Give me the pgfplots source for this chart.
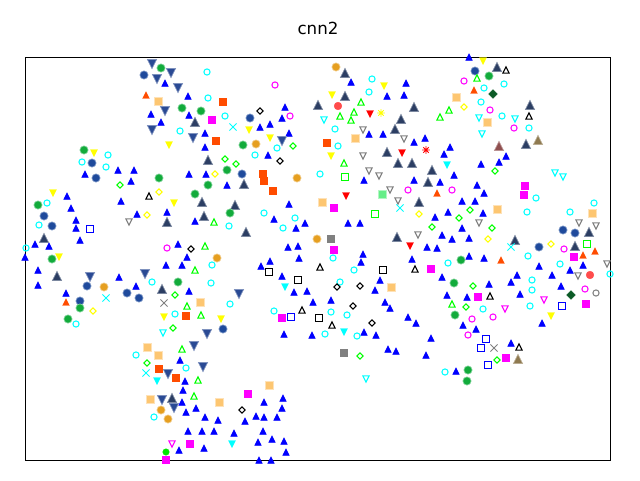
\documentclass[border=0pt]{standalone}
\usepackage{fontspec}
\setmainfont{DejaVu Sans}
\usepackage{pgfplots}
\pgfplotsset{compat=1.18}
\definecolor{cyan}{RGB}{0,255,255}
\definecolor{magenta}{RGB}{255,0,255}
\definecolor{yellow}{RGB}{255,255,0}
\pgfdeclareplotmark{utri}{\pgfpathmoveto{\pgfqpoint{0pt}{\pgfplotmarksize}}\pgfpathlineto{\pgfqpoint{-\pgfplotmarksize}{-\pgfplotmarksize}}\pgfpathlineto{\pgfqpoint{\pgfplotmarksize}{-\pgfplotmarksize}}\pgfpathclose\pgfusepathqfillstroke}
\pgfdeclareplotmark{dtri}{\pgfpathmoveto{\pgfqpoint{0pt}{-\pgfplotmarksize}}\pgfpathlineto{\pgfqpoint{-\pgfplotmarksize}{\pgfplotmarksize}}\pgfpathlineto{\pgfqpoint{\pgfplotmarksize}{\pgfplotmarksize}}\pgfpathclose\pgfusepathqfillstroke}
\pgfdeclareplotmark{sq}{\pgfpathrectanglecorners{\pgfqpoint{-\pgfplotmarksize}{-\pgfplotmarksize}}{\pgfqpoint{\pgfplotmarksize}{\pgfplotmarksize}}\pgfusepathqfillstroke}
\pgfdeclareplotmark{dia}{\pgfpathmoveto{\pgfqpoint{0pt}{\pgfplotmarksize}}\pgfpathlineto{\pgfqpoint{-\pgfplotmarksize}{0pt}}\pgfpathlineto{\pgfqpoint{0pt}{-\pgfplotmarksize}}\pgfpathlineto{\pgfqpoint{\pgfplotmarksize}{0pt}}\pgfpathclose\pgfusepathqfillstroke}
\pgfdeclareplotmark{outri}{\pgfpathmoveto{\pgfqpoint{0pt}{\pgfplotmarksize}}\pgfpathlineto{\pgfqpoint{-\pgfplotmarksize}{-\pgfplotmarksize}}\pgfpathlineto{\pgfqpoint{\pgfplotmarksize}{-\pgfplotmarksize}}\pgfpathclose\pgfusepathqstroke}
\pgfdeclareplotmark{odtri}{\pgfpathmoveto{\pgfqpoint{0pt}{-\pgfplotmarksize}}\pgfpathlineto{\pgfqpoint{-\pgfplotmarksize}{\pgfplotmarksize}}\pgfpathlineto{\pgfqpoint{\pgfplotmarksize}{\pgfplotmarksize}}\pgfpathclose\pgfusepathqstroke}
\pgfdeclareplotmark{osq}{\pgfpathrectanglecorners{\pgfqpoint{-\pgfplotmarksize}{-\pgfplotmarksize}}{\pgfqpoint{\pgfplotmarksize}{\pgfplotmarksize}}\pgfusepathqstroke}
\pgfdeclareplotmark{odia}{\pgfpathmoveto{\pgfqpoint{0pt}{\pgfplotmarksize}}\pgfpathlineto{\pgfqpoint{-\pgfplotmarksize}{0pt}}\pgfpathlineto{\pgfqpoint{0pt}{-\pgfplotmarksize}}\pgfpathlineto{\pgfqpoint{\pgfplotmarksize}{0pt}}\pgfpathclose\pgfusepathqstroke}
\pgfdeclareplotmark{ocirc}{\pgfpathcircle{\pgfpointorigin}{\pgfplotmarksize}\pgfusepathqstroke}
\pgfdeclareplotmark{ast8}{\pgfmathsetlengthmacro{\mm}{0.7071*\pgfplotmarksize}\pgfpathmoveto{\pgfqpoint{0pt}{\pgfplotmarksize}}\pgfpathlineto{\pgfqpoint{0pt}{-\pgfplotmarksize}}\pgfpathmoveto{\pgfqpoint{\pgfplotmarksize}{0pt}}\pgfpathlineto{\pgfqpoint{-\pgfplotmarksize}{0pt}}\pgfpathmoveto{\pgfqpoint{\mm}{\mm}}\pgfpathlineto{\pgfqpoint{-\mm}{-\mm}}\pgfpathmoveto{\pgfqpoint{\mm}{-\mm}}\pgfpathlineto{\pgfqpoint{-\mm}{\mm}}\pgfusepathqstroke}
\definecolor{navyt}{HTML}{2C3E63}
\definecolor{navyte}{HTML}{7F8BA3}
\definecolor{navyd}{HTML}{2A4A94}
\definecolor{navyde}{HTML}{7F92BE}
\definecolor{navyc}{HTML}{1F4A9C}
\definecolor{navyce}{HTML}{7F9AC8}
\definecolor{grn}{HTML}{12AB3B}
\definecolor{grne}{HTML}{80D49A}
\definecolor{org}{HTML}{E69F20}
\definecolor{orge}{HTML}{F2CE8E}
\definecolor{rorg}{HTML}{FF4C00}
\definecolor{lorg}{HTML}{FDC671}
\definecolor{lorge}{HTML}{FEE2B8}
\definecolor{lgrn}{HTML}{66EE88}
\definecolor{dgrn}{HTML}{0B5A26}
\definecolor{brred}{HTML}{8F4F4F}
\definecolor{tan2}{HTML}{8F7A50}
\definecolor{gry}{HTML}{808080}
\pgfplotsset{
  fm/.style n args={4}{only marks, mark=#1, mark size=#2, color=#4, mark options={solid, fill=#3, draw=#4, line width=0.7pt}},
  om/.style n args={3}{only marks, mark=#1, mark size=#2, color=#3, mark options={solid, draw=#3, line width=1.05pt}},
}
\begin{document}
\begin{tikzpicture}[x=1pt,y=1pt]
\useasboundingbox (-25.5pt,-19.5pt) rectangle (614.5pt,460.5pt);
\begin{axis}[
  scale only axis, width=585pt, height=403pt,
  xmin=25.5, xmax=610.5, ymin=57.5, ymax=460.5, y dir=reverse,
  xtick=\empty, ytick=\empty, clip=false,
  axis line style={black, line width=0.8pt},
  title style={at={(0.5,1)}, anchor=base, yshift=17.5pt, font=\fontsize{16.67}{20}\selectfont},
  title={cnn2},
]
% small blue up triangles
\addplot[fm={utri}{3.3pt}{blue}{blue}, mark options={line width=0.4pt}] coordinates {
(165,83)(151,114)(161,122)(85,174)(118,170)(134,170)(131,181)
(188,96)(189,115)(205,133)(205,147)(189,174)(206,174)(227,185)(285,107)(282,118)(270,124)(260,127)(289,133)(268,155)
(351,82)(406,83)(387,96)(404,95)(369,134)(383,134)(414,142)(425,138)(450,147)(444,154)(364,180)(414,180)(440,182)(454,175)
(469,57)(481,164)(499,162)(506,156)(477,185)
(67,196)(121,201)(71,208)(137,214)(76,220)(167,212)(76,228)(80,240)(35,244)(49,246)(25,257)(38,270)(166,265)(119,277)(38,285)(136,286)(66,293)
(195,221)(178,244)(187,257)(182,265)(189,291)(289,204)(274,219)(296,228)(288,247)(298,246)(299,258)(270,261)(261,266)(282,276)(294,292)(284,334)
(305,223)(348,223)(360,223)(363,254)(361,262)(380,280)(375,290)(307,291)(313,302)(331,300)(385,302)(390,308)(408,317)(416,323)(364,332)(312,335)(376,335)
(435,217)(448,212)(442,235)(452,239)(427,247)(437,248)(412,259)(442,277)(447,295)
(484,193)(462,201)(475,201)(483,213)(462,228)(469,238)(469,256)(484,258)(539,266)(517,275)(511,282)(552,275)(570,270)(583,265)(489,284)(467,297)(520,294)(561,286)(542,323)(463,325)(476,329)
(180,360)(185,381)(183,390)(182,402)(186,412)(196,408)(205,417)(218,420)(188,431)(202,431)(214,431)(234,433)(179,450)(204,448)(245,421)(256,416)(264,417)(264,402)(283,398)(282,408)(277,417)(263,431)(272,439)(258,442)(284,441)(286,452)(259,460)(271,460)
(388,349)(396,351)(431,338)(426,355)(511,343)(456,371)
};
% navy up triangles
\addplot[fm={utri}{4.6pt}{navyt}{navyte}] coordinates {
(195,122)(208,160)(244,184)(345,73)(345,96)(318,105)(414,107)(401,119)(395,129)(387,152)(398,163)(412,163)(432,170)(428,182)
(497,67)(530,105)(526,144)(44,238)(57,276)(162,289)(167,222)(202,202)(235,205)(204,216)(246,232)(419,202)(397,237)(515,240)(589,232)(575,246)(172,398)
};
% navy down triangles
\addplot[fm={dtri}{4.6pt}{navyd}{navyde}] coordinates {
(152,64)(157,79)(171,73)(165,111)(152,130)(178,88)(193,138)(282,141)(90,277)(145,274)(239,294)(207,334)(194,346)(203,367)(168,374)(162,400)(174,408)
};
% navy circles
\addplot[fm={*}{4.1pt}{navyc}{navyce}] coordinates {
(144,75)(92,163)(96,178)(250,118)(242,174)(475,71)(44,216)(52,226)(87,286)(127,293)(139,298)(80,301)(223,329)(563,230)(575,233)(539,247)
};
% green circles
\addplot[fm={*}{4.1pt}{grn}{grne}] coordinates {
(161,68)(84,150)(159,178)(182,108)(201,111)(243,145)(227,170)(208,185)(195,194)(489,76)(38,205)(52,259)(80,308)(68,319)(230,213)(178,282)(461,260)(454,283)(455,315)(468,370)(467,381)
};
% orange circles
\addplot[fm={*}{4.1pt}{org}{orge}] coordinates {
(256,144)(297,178)(336,67)(104,287)(217,258)(317,239)(161,410)(168,419)
};
% red-orange squares
\addplot[fm={sq}{3.5pt}{rorg}{rorg}, mark options={line width=0.3pt}] coordinates {
(223,102)(216,141)(263,174)(264,181)(273,191)(327,143)(186,316)(159,369)(176,378)
};
% light orange squares
\addplot[fm={sq}{4.1pt}{lorg}{lorge}] coordinates {
(158,101)(355,138)(456,97)(487,122)(322,202)(391,287)(497,209)(592,213)(200,302)(147,347)(158,355)(150,399)(219,402)(269,385)
};
% magenta squares
\addplot[fm={sq}{3.4pt}{magenta}{magenta}, mark options={line width=0.3pt}] coordinates {
(212,120)(525,186)(334,208)(334,250)(431,269)(282,318)(524,195)(574,257)(478,297)(586,304)(248,394)(190,444)(166,460)(506,358)
};
% cyan open circles
\addplot[om={ocirc}{3.1pt}{cyan}] coordinates {
(108,155)(82,162)(106,167)(207,72)(208,98)(225,116)(180,131)(277,148)(255,155)(372,79)(369,92)(335,129)(338,146)(320,174)
(484,88)(504,84)(481,102)(502,116)(529,128)(47,203)(39,225)(26,248)(152,282)(76,324)(264,213)(295,218)(283,228)(229,226)(212,265)(211,283)(230,304)(175,314)(274,311)
(333,258)(354,270)(340,282)(331,312)(347,315)(325,334)(357,336)(448,263)(536,198)(527,212)(570,212)(594,203)(528,256)(560,264)(532,280)(532,290)(483,309)(530,306)(610,274)(136,355)(186,368)(154,417)(445,372)
};
% magenta open circles
\addplot[om={ocirc}{3.1pt}{magenta}] coordinates {
(275,85)(290,116)(408,190)(452,190)(464,81)(490,110)(514,128)(167,248)(564,249)(585,289)(472,319)(493,317)(468,335)
};
% green open up triangles
\addplot[om={outri}{3.1pt}{green}] coordinates {
(361,102)(340,116)(354,112)(351,120)(449,110)(440,117)(344,163)(477,78)(214,222)(205,246)(195,270)(187,306)(201,315)(452,304)(182,349)(198,380)(194,396)
};
% green open diamonds
\addplot[om={odia}{3.1pt}{green}] coordinates {
(120,185)(225,159)(236,164)(293,146)(495,171)(175,295)(173,328)(432,227)(470,210)(459,218)(492,228)(473,286)(466,307)(147,363)(360,356)(497,360)
};
% yellow open diamonds
\addplot[om={odia}{3.1pt}{yellow}] coordinates {
(215,174)(159,192)(464,107)(147,215)(93,311)(419,214)(488,239)(551,244)
};
% yellow down triangles
\addplot[fm={dtri}{3.5pt}{yellow}{yellow}, mark options={line width=0.3pt}] coordinates {
(94,153)(169,145)(249,130)(270,138)(384,86)(332,95)(331,156)(483,61)(53,193)(59,257)(164,317)(174,203)(221,319)(551,316)
};
% cyan open down triangles
\addplot[om={odtri}{3.1pt}{cyan}] coordinates {
(324,120)(479,118)(515,119)(482,134)(555,173)(563,177)(163,333)(366,379)
};
% cyan filled down triangles
\addplot[fm={dtri}{3.5pt}{cyan}{cyan}, mark options={line width=0.3pt}] coordinates {
(447,165)(285,287)(344,332)(157,381)(232,444)
};
% gray open down triangles
\addplot[om={odtri}{3.1pt}{gry}] coordinates {
(363,130)(404,139)(363,156)(369,171)(379,176)(390,190)(129,222)(398,201)(418,235)(479,223)(579,223)(596,226)(607,264)(578,276)
};
% red down triangles
\addplot[fm={dtri}{3.5pt}{red}{red}, mark options={line width=0.3pt}] coordinates {
(370,114)(402,153)(346,196)(410,246)
};
% orange-red up triangles
\addplot[fm={utri}{3.4pt}{rorg}{rorg}, mark options={line width=0.3pt}] coordinates {
(146,95)(437,193)(474,90)(66,302)(501,260)(583,255)(595,251)
};
% black open up triangles
\addplot[om={outri}{3.1pt}{black}] coordinates {
(506,70)(529,116)(149,196)(320,267)(415,269)(302,310)(332,325)(490,296)(519,347)
};
% black open diamonds
\addplot[om={odia}{3.1pt}{black}] coordinates {
(260,111)(280,161)(191,249)(337,287)(360,286)(353,306)(372,323)(242,410)
};
% black open squares
\addplot[om={osq}{3.1pt}{black}] coordinates {
(269,272)(298,280)(383,270)(319,318)
};
% blue open squares
\addplot[om={osq}{3.1pt}{blue}] coordinates {
(90,229)(291,317)(562,306)(486,339)(481,348)(488,365)
};
% green open squares
\addplot[om={osq}{3.1pt}{green}] coordinates {
(345,177)(375,214)(587,244)
};
% light green square
\addplot[fm={sq}{4.1pt}{lgrn}{lgrn!50}] coordinates {(382,194)};
% gray squares
\addplot[fm={sq}{3.4pt}{gry}{gry}, mark options={line width=0.3pt}] coordinates {(331,239)(344,353)};
% dark green diamonds
\addplot[fm={dia}{4.4pt}{dgrn}{dgrn}, mark options={line width=0.3pt}] coordinates {(493,94)(571,295)};
% red circles
\addplot[fm={*}{3.9pt}{red}{red!70}, mark options={line width=0.3pt}] coordinates {(338,106)(590,275)};
% brown triangles
\addplot[fm={utri}{4.6pt}{brred}{brred!60}] coordinates {(499,146)};
\addplot[fm={utri}{4.6pt}{tan2}{tan2!60}] coordinates {(538,140)(518,359)};
% stars
\addplot[only marks, mark=ast8, mark size=3.8pt, color=yellow, mark options={line width=0.9pt}] coordinates {(381,113)};
\addplot[only marks, mark=ast8, mark size=3.8pt, color=red, mark options={line width=0.9pt}] coordinates {(426,150)};
% crosses
\addplot[only marks, mark=x, mark size=5pt, color=cyan, mark options={line width=0.9pt}] coordinates {(233,127)(106,298)(400,208)(511,247)(146,373)};
\addplot[only marks, mark=x, mark size=5pt, color=gry, mark options={line width=0.9pt}] coordinates {(164,303)(494,348)};
% gray open circle
\addplot[om={ocirc}{3.1pt}{gry}] coordinates {(596,293)};
% magenta open down triangles
\addplot[om={odtri}{3.1pt}{magenta}] coordinates {(544,300)(505,309)(172,444)};
% bright green circle
\addplot[fm={*}{3.3pt}{green!90!black}{green!90!black}, mark options={line width=0.3pt}] coordinates {(166,452)};
\end{axis}
\end{tikzpicture}
\end{document}
